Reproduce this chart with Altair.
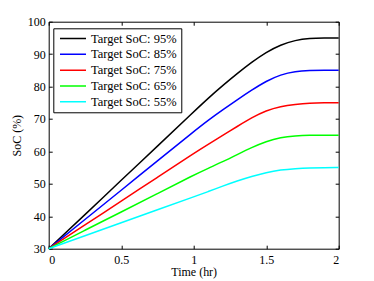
import altair as alt
import pandas as pd

time_hr = [0, 0.25, 0.5, 0.75, 1.0, 1.1, 1.2, 1.3, 1.4, 1.5, 1.6, 1.7, 1.8, 1.9, 2.0]
soc_95 = [30, 40.5, 51.1, 61.6, 72.2, 76.4, 80.3, 84.0, 87.5, 90.6, 92.9, 94.3, 94.9, 95.0, 95.0]
soc_85 = [30, 39.0, 48.0, 57.1, 66.1, 69.6, 72.8, 75.9, 78.9, 81.7, 83.7, 84.7, 84.95, 85.0, 85.0]
soc_75 = [30, 37.3, 44.7, 52.0, 59.4, 62.2, 64.9, 67.7, 70.4, 72.6, 73.9, 74.5, 74.9, 75.0, 75.0]
soc_65 = [30, 35.7, 41.3, 47.0, 52.7, 54.8, 56.8, 59.0, 61.2, 63.1, 64.3, 64.8, 65.0, 65.0, 65.0]
soc_55 = [30, 34.0, 38.0, 42.0, 46.0, 47.6, 49.3, 50.9, 52.3, 53.5, 54.3, 54.7, 54.95, 55.0, 55.0]

labels = ["Target SoC: 95%", "Target SoC: 85%", "Target SoC: 75%",
          "Target SoC: 65%", "Target SoC: 55%"]
colors = ["#000000", "#0000ff", "#ff0000", "#00ff00", "#00ffff"]
series = [soc_95, soc_85, soc_75, soc_65, soc_55]

rows = []
for lab, vals in zip(labels, series):
    for t, v in zip(time_hr, vals):
        rows.append({"t": t, "soc": v, "series": lab})
df = pd.DataFrame(rows)

FONT = "Liberation Serif"
TICK = 3.5

x_scale = alt.Scale(domain=[0, 2], nice=False)
y_scale = alt.Scale(domain=[30, 100], nice=False)

lines = alt.Chart(df).mark_line(strokeWidth=1.5, interpolate="basis").encode(
    x=alt.X("t:Q", scale=x_scale,
            axis=alt.Axis(title="Time (hr)", values=[0, 0.5, 1, 1.5, 2], format="~g",
                          orient="bottom", offset=-TICK, tickSize=TICK, domain=False,
                          grid=False, labelPadding=5.5, titleY=21,
                          titleBaseline="top")),
    y=alt.Y("soc:Q", scale=y_scale,
            axis=alt.Axis(title="SoC  (%)", values=[30, 40, 50, 60, 70, 80, 90, 100],
                          orient="left", offset=-TICK, tickSize=TICK, domain=False,
                          grid=False, labelPadding=3.5, titlePadding=3.7)),
    color=alt.Color("series:N", scale=alt.Scale(domain=labels, range=colors),
                    sort=labels,
                    legend=alt.Legend(title=None, orient="none", legendX=4.6, legendY=6.6,
                                      symbolType="stroke", symbolSize=676,
                                      clipHeight=12.5,
                                      symbolStrokeWidth=1.5, symbolOffset=1.7,
                                      labelOffset=4, rowPadding=2.8, padding=4,
                                      strokeColor="black", fillColor="white",
                                      labelFont=FONT, labelFontSize=12.5,
                                      labelColor="black", cornerRadius=0)),
)

frame_axes = alt.Chart(df).mark_point(opacity=0).encode(
    x=alt.X("t:Q", scale=x_scale,
            axis=alt.Axis(title=None, values=[0, 0.5, 1, 1.5, 2], orient="top",
                          offset=-TICK, tickSize=TICK, domain=False, grid=False,
                          labels=False)),
    y=alt.Y("soc:Q", scale=y_scale,
            axis=alt.Axis(title=None, values=[30, 40, 50, 60, 70, 80, 90, 100],
                          orient="right", offset=-TICK, tickSize=TICK, domain=False,
                          grid=False, labels=False)),
)

chart = alt.layer(lines, frame_axes).resolve_axis(
    x="independent", y="independent"
).properties(
    width=290, height=227,
    autosize=alt.AutoSizeParams(type="none"),
    padding={"left": 40.7, "top": 13.7, "right": 20, "bottom": 30},
    background="white",
).configure_view(
    stroke="black", strokeWidth=1
).configure_axis(
    labelFont=FONT, labelFontSize=12, labelColor="black",
    titleFont=FONT, titleFontSize=12, titleColor="black", titleFontWeight="normal",
    tickColor="black", tickWidth=1,
)

chart.save("out.html", embed_options={"renderer": "svg", "actions": False})
